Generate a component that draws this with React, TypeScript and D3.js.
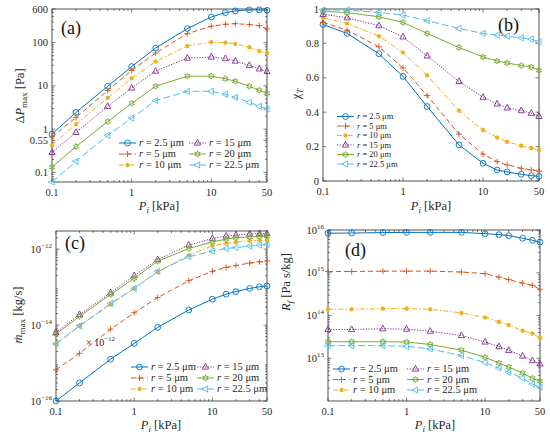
import { useEffect, useRef } from "react"
import * as d3 from "d3"

// inlet pressure P_i [kPa]
const pressure = [0.1, 0.2, 0.5, 1, 2, 5, 10, 15, 20, 30, 40, 50]
const radii = ["2.5", "5", "10", "15", "20", "22.5"]

// (a) ΔP_max [Pa]
const dp25 = [0.77, 2.44, 9.8, 28, 75, 211, 392, 495, 543, 574, 574, 560]
const dp5 = [0.66, 1.87, 7.8, 22.7, 57.6, 162, 240, 266, 275, 262, 247, 208]
const dp10 = [0.43, 1.3, 5.26, 15, 36.7, 84, 103, 100, 93, 78, 64, 57]
const dp15 = [0.29, 0.84, 3.37, 8.95, 22, 44, 46.5, 43, 37.5, 29.6, 24.8, 21.6]
const dp20 = [0.133, 0.395, 1.5, 3.96, 9.8, 16.8, 16.8, 14.6, 12.8, 9.8, 7.9, 6.75]
const dp225 = [0.06, 0.18, 0.72, 1.8, 4.56, 7.5, 7.5, 6.4, 5.45, 4.17, 3.37, 2.92]

// (b) χ_T
const chi25 = [0.91, 0.858, 0.74, 0.608, 0.433, 0.21, 0.103, 0.064, 0.053, 0.039, 0.031, 0.027]
const chi5 = [0.922, 0.877, 0.78, 0.657, 0.497, 0.273, 0.156, 0.113, 0.094, 0.074, 0.064, 0.057]
const chi10 = [0.949, 0.916, 0.842, 0.747, 0.614, 0.409, 0.296, 0.253, 0.228, 0.205, 0.191, 0.179]
const chi15 = [0.969, 0.949, 0.903, 0.838, 0.727, 0.579, 0.487, 0.448, 0.425, 0.409, 0.394, 0.376]
const chi20 = [0.988, 0.979, 0.955, 0.922, 0.858, 0.776, 0.721, 0.698, 0.686, 0.671, 0.663, 0.643]
const chi225 = [0.995, 0.994, 0.98, 0.965, 0.932, 0.887, 0.858, 0.848, 0.842, 0.832, 0.825, 0.809]

// (c) mass flow rate [kg/s]
const m25 = [1e-16, 3.0e-16, 1.26e-15, 3.3e-15, 8.7e-15, 2.5e-14, 4.8e-14, 6.5e-14, 7.6e-14, 9.2e-14, 1.02e-13, 1.07e-13]
const m5 = [6.6e-16, 1.8e-15, 7.8e-15, 2.1e-14, 5.3e-14, 1.47e-13, 2.6e-13, 3.3e-13, 3.7e-13, 4.3e-13, 4.6e-13, 4.9e-13]
const m10 = [3.2e-15, 9.6e-15, 3.5e-14, 9.2e-14, 2.5e-13, 6.9e-13, 1.22e-12, 1.41e-12, 1.52e-12, 1.66e-12, 1.7e-12, 1.73e-12]
const m15 = [6.4e-15, 1.9e-14, 7.1e-14, 2.0e-13, 5.3e-13, 1.28e-12, 1.9e-12, 2.2e-12, 2.33e-12, 2.5e-12, 2.57e-12, 2.57e-12]
const m20 = [5.8e-15, 1.7e-14, 6.4e-14, 1.7e-13, 4.8e-13, 1.04e-12, 1.56e-12, 1.83e-12, 2.0e-12, 2.1e-12, 2.15e-12, 2.2e-12]
const m225 = [3.2e-15, 9.5e-15, 3.7e-14, 9.2e-14, 2.6e-13, 6.3e-13, 8.9e-13, 1.04e-12, 1.1e-12, 1.2e-12, 1.27e-12, 1.32e-12]

// (d) R_f [Pa s/kg]
const rf25 = [8.4e15, 8.5e15, 8.7e15, 8.8e15, 8.8e15, 8.8e15, 8.2e15, 7.8e15, 7.4e15, 6.4e15, 5.75e15, 5.2e15]
const rf5 = [1.07e15, 1.07e15, 1.09e15, 1.09e15, 1.09e15, 1.04e15, 9.5e14, 7.9e14, 6.9e14, 5.7e14, 5.1e14, 4.1e14]
const rf10 = [1.4e14, 1.4e14, 1.45e14, 1.45e14, 1.4e14, 1.15e14, 9.0e13, 7.1e13, 6.0e13, 4.4e13, 3.8e13, 3.0e13]
const rf15 = [4.7e13, 4.7e13, 4.9e13, 4.8e13, 4.3e13, 3.4e13, 2.4e13, 1.87e13, 1.53e13, 1.13e13, 8.8e12, 7.4e12]
const rf20 = [2.44e13, 2.44e13, 2.44e13, 2.4e13, 2.1e13, 1.55e13, 1.05e13, 7.7e12, 6.2e12, 4.5e12, 3.4e12, 2.9e12]
const rf225 = [1.97e13, 1.97e13, 1.97e13, 1.9e13, 1.65e13, 1.15e13, 7.9e12, 5.9e12, 4.7e12, 3.4e12, 2.5e12, 2.1e12]

const xTicks = [0.1, 1, 10, 50]
const xTickLabels = ["0.1", "1", "10", "50"]
const dpTicks = [0.1, 0.55, 1, 10, 100, 600]
const dpTickLabels = ["0.1", "0.55", "1", "10", "100", "600"]
const chiTicks = [0, 0.2, 0.4, 0.6, 0.8, 1]
const chiTickLabels = ["0", "0.2", "0.4", "0.6", "0.8", "1"]
const mTicks = [1e-16, 1e-14, 1e-12]
const mExponents = ["\u221216", "\u221214", "\u221212"]
const rfTicks = [1e13, 1e14, 1e15, 1e16]
const rfExponents = ["13", "14", "15", "16"]

const colors = ["#0072BD", "#D95319", "#EDB120", "#7E2F8E", "#77AC30", "#4DBEEE"]
const dashes = ["none", "5,3", "5,2,1.5,2", "1.2,1.5", "none", "7,3"]
const markers = ["circle", "plus", "asterisk", "triangle", "hexagram", "triangleLeft"]

const FONT = "'Liberation Serif', 'Times New Roman', serif"
const AXIS = "#262626"

function hexagram() {
  const pts = d3.range(12).map((i) => {
    const r = i % 2 ? 1.6 : 3.1
    const a = (i * 30 - 90) * (Math.PI / 180)
    return [r * Math.cos(a), r * Math.sin(a)]
  })
  return "M" + pts.map((p) => p.join(",")).join("L") + "Z"
}

function markerPath(kind: string) {
  switch (kind) {
    case "circle":
      return "M2.9,0A2.9,2.9 0 1,1 -2.9,0A2.9,2.9 0 1,1 2.9,0Z"
    case "plus":
      return "M-3,0H3M0,-3V3"
    case "asterisk":
      return "M-2.3,0H2.3M0,-2.3V2.3M-1.6,-1.6L1.6,1.6M-1.6,1.6L1.6,-1.6"
    case "triangle":
      return "M0,-3.6L3.1,2.1L-3.1,2.1Z"
    case "hexagram":
      return hexagram()
    default:
      return "M-3.6,0L2.1,-3.1L2.1,3.1Z"
  }
}

// minor ticks 2..9 per decade inside a domain
function logMinors(lo: number, hi: number) {
  const out: number[] = []
  for (let e = Math.floor(Math.log10(lo)); e <= Math.ceil(Math.log10(hi)); e++) {
    for (let k = 2; k <= 9; k++) {
      const v = k * Math.pow(10, e)
      if (v > lo * 1.0001 && v < hi * 0.9999) out.push(v)
    }
  }
  return out
}

interface PanelConfig {
  box: [number, number, number, number]
  series: number[][]
  yLog: boolean
  yDomain: [number, number]
  yTicks: number[]
  yLabels?: string[]
  yExponents?: string[]
  tag: string
  tagPos: [number, number]
  legendCols: number[]
  legendRows: number[]
  legendFont: number
  yTitle: (t: d3.Selection<SVGTextElement, unknown, null, undefined>) => void
  yTitlePos: [number, number]
  xTitlePos: [number, number]
}

function drawPanel(svg: d3.Selection<SVGSVGElement, unknown, null, undefined>, cfg: PanelConfig) {
  const [x0, x1, y0, y1] = cfg.box
  const x = d3.scaleLog().domain([0.1, 50]).range([x0, x1])
  const y = cfg.yLog
    ? d3.scaleLog().domain(cfg.yDomain).range([y1, y0])
    : d3.scaleLinear().domain(cfg.yDomain).range([y1, y0])

  const g = svg.append("g")

  // box
  g.append("rect")
    .attr("x", x0)
    .attr("y", y0)
    .attr("width", x1 - x0)
    .attr("height", y1 - y0)
    .attr("fill", "white")
    .attr("stroke", AXIS)
    .attr("stroke-width", 0.8)

  // ticks, inside, mirrored
  const tickG = g.append("g").attr("stroke", AXIS).attr("stroke-width", 0.6)
  const xMinor = logMinors(0.1, 50).filter((v) => !xTicks.includes(v))
  xTicks.forEach((v) => {
    tickG.append("line").attr("x1", x(v)).attr("x2", x(v)).attr("y1", y1).attr("y2", y1 - 3.5)
    tickG.append("line").attr("x1", x(v)).attr("x2", x(v)).attr("y1", y0).attr("y2", y0 + 3.5)
  })
  xMinor.forEach((v) => {
    tickG.append("line").attr("x1", x(v)).attr("x2", x(v)).attr("y1", y1).attr("y2", y1 - 2)
    tickG.append("line").attr("x1", x(v)).attr("x2", x(v)).attr("y1", y0).attr("y2", y0 + 2)
  })
  cfg.yTicks.forEach((v) => {
    tickG.append("line").attr("y1", y(v)).attr("y2", y(v)).attr("x1", x0).attr("x2", x0 + 3.5)
    tickG.append("line").attr("y1", y(v)).attr("y2", y(v)).attr("x1", x1).attr("x2", x1 - 3.5)
  })
  if (cfg.yLog) {
    logMinors(cfg.yDomain[0], cfg.yDomain[1])
      .filter((v) => !cfg.yTicks.some((t) => Math.abs(t - v) / v < 1e-6))
      .forEach((v) => {
        tickG.append("line").attr("y1", y(v)).attr("y2", y(v)).attr("x1", x0).attr("x2", x0 + 2)
        tickG.append("line").attr("y1", y(v)).attr("y2", y(v)).attr("x1", x1).attr("x2", x1 - 2)
      })
  }

  // tick labels
  const lab = g.append("g").attr("font-family", FONT).attr("font-size", 10.5).attr("fill", AXIS)
  xTicks.forEach((v, i) => {
    lab.append("text").attr("x", x(v)).attr("y", y1 + 14).attr("text-anchor", "middle").text(xTickLabels[i])
  })
  cfg.yTicks.forEach((v, i) => {
    const t = lab
      .append("text")
      .attr("x", x0 - 4)
      .attr("y", y(v) + 3.5)
      .attr("text-anchor", "end")
    if (cfg.yExponents) {
      t.append("tspan").text("10")
      t.append("tspan").attr("dy", -5).attr("font-size", 7).text(cfg.yExponents[i])
    } else if (cfg.yLabels) {
      t.text(cfg.yLabels[i])
    }
  })

  // series
  const line = d3
    .line<number>()
    .x((_, i) => x(pressure[i]))
    .y((d) => y(d))
  cfg.series.forEach((s, k) => {
    g.append("path")
      .datum(s)
      .attr("fill", "none")
      .attr("stroke", colors[k])
      .attr("stroke-width", 1)
      .attr("stroke-dasharray", dashes[k])
      .attr("d", line)
    g.selectAll(null)
      .data(s)
      .join("path")
      .attr("transform", (d, i) => `translate(${x(pressure[i])},${y(d)})`)
      .attr("d", markerPath(markers[k]))
      .attr("fill", "none")
      .attr("stroke", colors[k])
      .attr("stroke-width", markers[k] === "asterisk" ? 1.2 : 0.9)
  })

  // legend
  const leg = g.append("g").attr("font-family", FONT).attr("font-size", cfg.legendFont).attr("fill", AXIS)
  radii.forEach((r, k) => {
    const col = Math.floor(k / cfg.legendRows.length)
    const row = k % cfg.legendRows.length
    const lx = cfg.legendCols[col]
    const ly = cfg.legendRows[row]
    leg.append("line")
      .attr("x1", lx)
      .attr("x2", lx + 17)
      .attr("y1", ly)
      .attr("y2", ly)
      .attr("stroke", colors[k])
      .attr("stroke-width", 1)
      .attr("stroke-dasharray", dashes[k])
    leg.append("path")
      .attr("transform", `translate(${lx + 8.5},${ly})`)
      .attr("d", markerPath(markers[k]))
      .attr("fill", "none")
      .attr("stroke", colors[k])
      .attr("stroke-width", markers[k] === "asterisk" ? 1.2 : 0.9)
    const t = leg.append("text").attr("x", lx + 20).attr("y", ly + cfg.legendFont * 0.33)
    t.append("tspan").attr("font-style", "italic").text("r")
    t.append("tspan").text(` = ${r} \u03bcm`)
  })

  // panel tag
  g.append("text")
    .attr("x", cfg.tagPos[0])
    .attr("y", cfg.tagPos[1])
    .attr("font-family", FONT)
    .attr("font-size", 18)
    .attr("fill", "#111")
    .text(cfg.tag)

  // x title
  const xt = g
    .append("text")
    .attr("x", cfg.xTitlePos[0])
    .attr("y", cfg.xTitlePos[1])
    .attr("text-anchor", "middle")
    .attr("font-family", FONT)
    .attr("font-size", 12.5)
    .attr("fill", AXIS)
  xt.append("tspan").attr("font-style", "italic").text("P")
  xt.append("tspan").attr("font-style", "italic").attr("font-size", 9).attr("dy", 3).text("i")
  xt.append("tspan").attr("dy", -3).text(" [kPa]")

  // y title
  const yt = g
    .append("text")
    .attr("transform", `translate(${cfg.yTitlePos[0]},${cfg.yTitlePos[1]}) rotate(-90)`)
    .attr("text-anchor", "middle")
    .attr("font-family", FONT)
    .attr("font-size", 12.5)
    .attr("fill", AXIS)
  cfg.yTitle(yt)

  return { x, y, g }
}

export default function App() {
  const svgRef = useRef<SVGSVGElement>(null)

  useEffect(() => {
    if (!svgRef.current) return
    const svg = d3.select(svgRef.current)
    svg.selectAll("*").remove()

    drawPanel(svg, {
      box: [52, 267, 9, 182],
      series: [dp25, dp5, dp10, dp15, dp20, dp225],
      yLog: true,
      yDomain: [0.06, 600],
      yTicks: dpTicks,
      yLabels: dpTickLabels,
      tag: "(a)",
      tagPos: [61, 34],
      legendCols: [119, 189],
      legendRows: [143, 154, 165],
      legendFont: 10.5,
      yTitle: (t) => {
        t.append("tspan").text("\u0394")
        t.append("tspan").attr("font-style", "italic").text("P")
        t.append("tspan").attr("font-size", 9).attr("dy", 3).text("max")
        t.append("tspan").attr("dy", -3).text(" [Pa]")
      },
      yTitlePos: [24, 96],
      xTitlePos: [159, 210],
    })

    drawPanel(svg, {
      box: [323, 539, 9, 181],
      series: [chi25, chi5, chi10, chi15, chi20, chi225],
      yLog: false,
      yDomain: [0, 1],
      yTicks: chiTicks,
      yLabels: chiTickLabels,
      tag: "(b)",
      tagPos: [498, 31],
      legendCols: [337],
      legendRows: [116.5, 126, 135.5, 145, 154.5, 164],
      legendFont: 8.5,
      yTitle: (t) => {
        t.append("tspan").text("\u03c7")
        t.append("tspan").attr("font-style", "italic").attr("font-size", 9).attr("dy", 3).text("T")
      },
      yTitlePos: [300, 94],
      xTitlePos: [431, 210],
    })

    const c = drawPanel(svg, {
      box: [56, 267, 231, 401],
      series: [m25, m5, m10, m15, m20, m225],
      yLog: true,
      yDomain: [1e-16, 3e-12],
      yTicks: mTicks,
      yExponents: mExponents,
      tag: "(c)",
      tagPos: [65, 249],
      legendCols: [131, 197],
      legendRows: [367, 378, 389],
      legendFont: 10.5,
      yTitle: (t) => {
        t.append("tspan").attr("font-style", "italic").text("m\u0307")
        t.append("tspan").attr("font-size", 9).attr("dy", 3).text("max")
        t.append("tspan").attr("dy", -3).text(" [kg/s]")
      },
      yTitlePos: [22, 315],
      xTitlePos: [161, 429],
    })

    // stray scale note inside panel (c)
    const note = c.g
      .append("text")
      .attr("x", 86)
      .attr("y", 346)
      .attr("font-family", FONT)
      .attr("font-size", 10)
      .attr("fill", AXIS)
    note.append("tspan").text("\u00d7 10")
    note.append("tspan").attr("dy", -5).attr("font-size", 7).text("\u221212")

    drawPanel(svg, {
      box: [328, 540, 230, 401],
      series: [rf25, rf5, rf10, rf15, rf20, rf225],
      yLog: true,
      yDomain: [1e12, 1e16],
      yTicks: rfTicks,
      yExponents: rfExponents,
      tag: "(d)",
      tagPos: [345, 256],
      legendCols: [333, 407],
      legendRows: [369, 379.5, 390],
      legendFont: 10.5,
      yTitle: (t) => {
        t.append("tspan").attr("font-style", "italic").text("R")
        t.append("tspan").attr("font-style", "italic").attr("font-size", 9).attr("dy", 3).text("f")
        t.append("tspan").attr("dy", -3).text(" [Pa s/kg]")
      },
      yTitlePos: [290, 282],
      xTitlePos: [435, 429],
    })
  }, [])

  return (
    <svg
      ref={svgRef}
      width={550}
      height={435}
      style={{ position: "absolute", left: 0, top: 0, background: "white" }}
    />
  )
}
